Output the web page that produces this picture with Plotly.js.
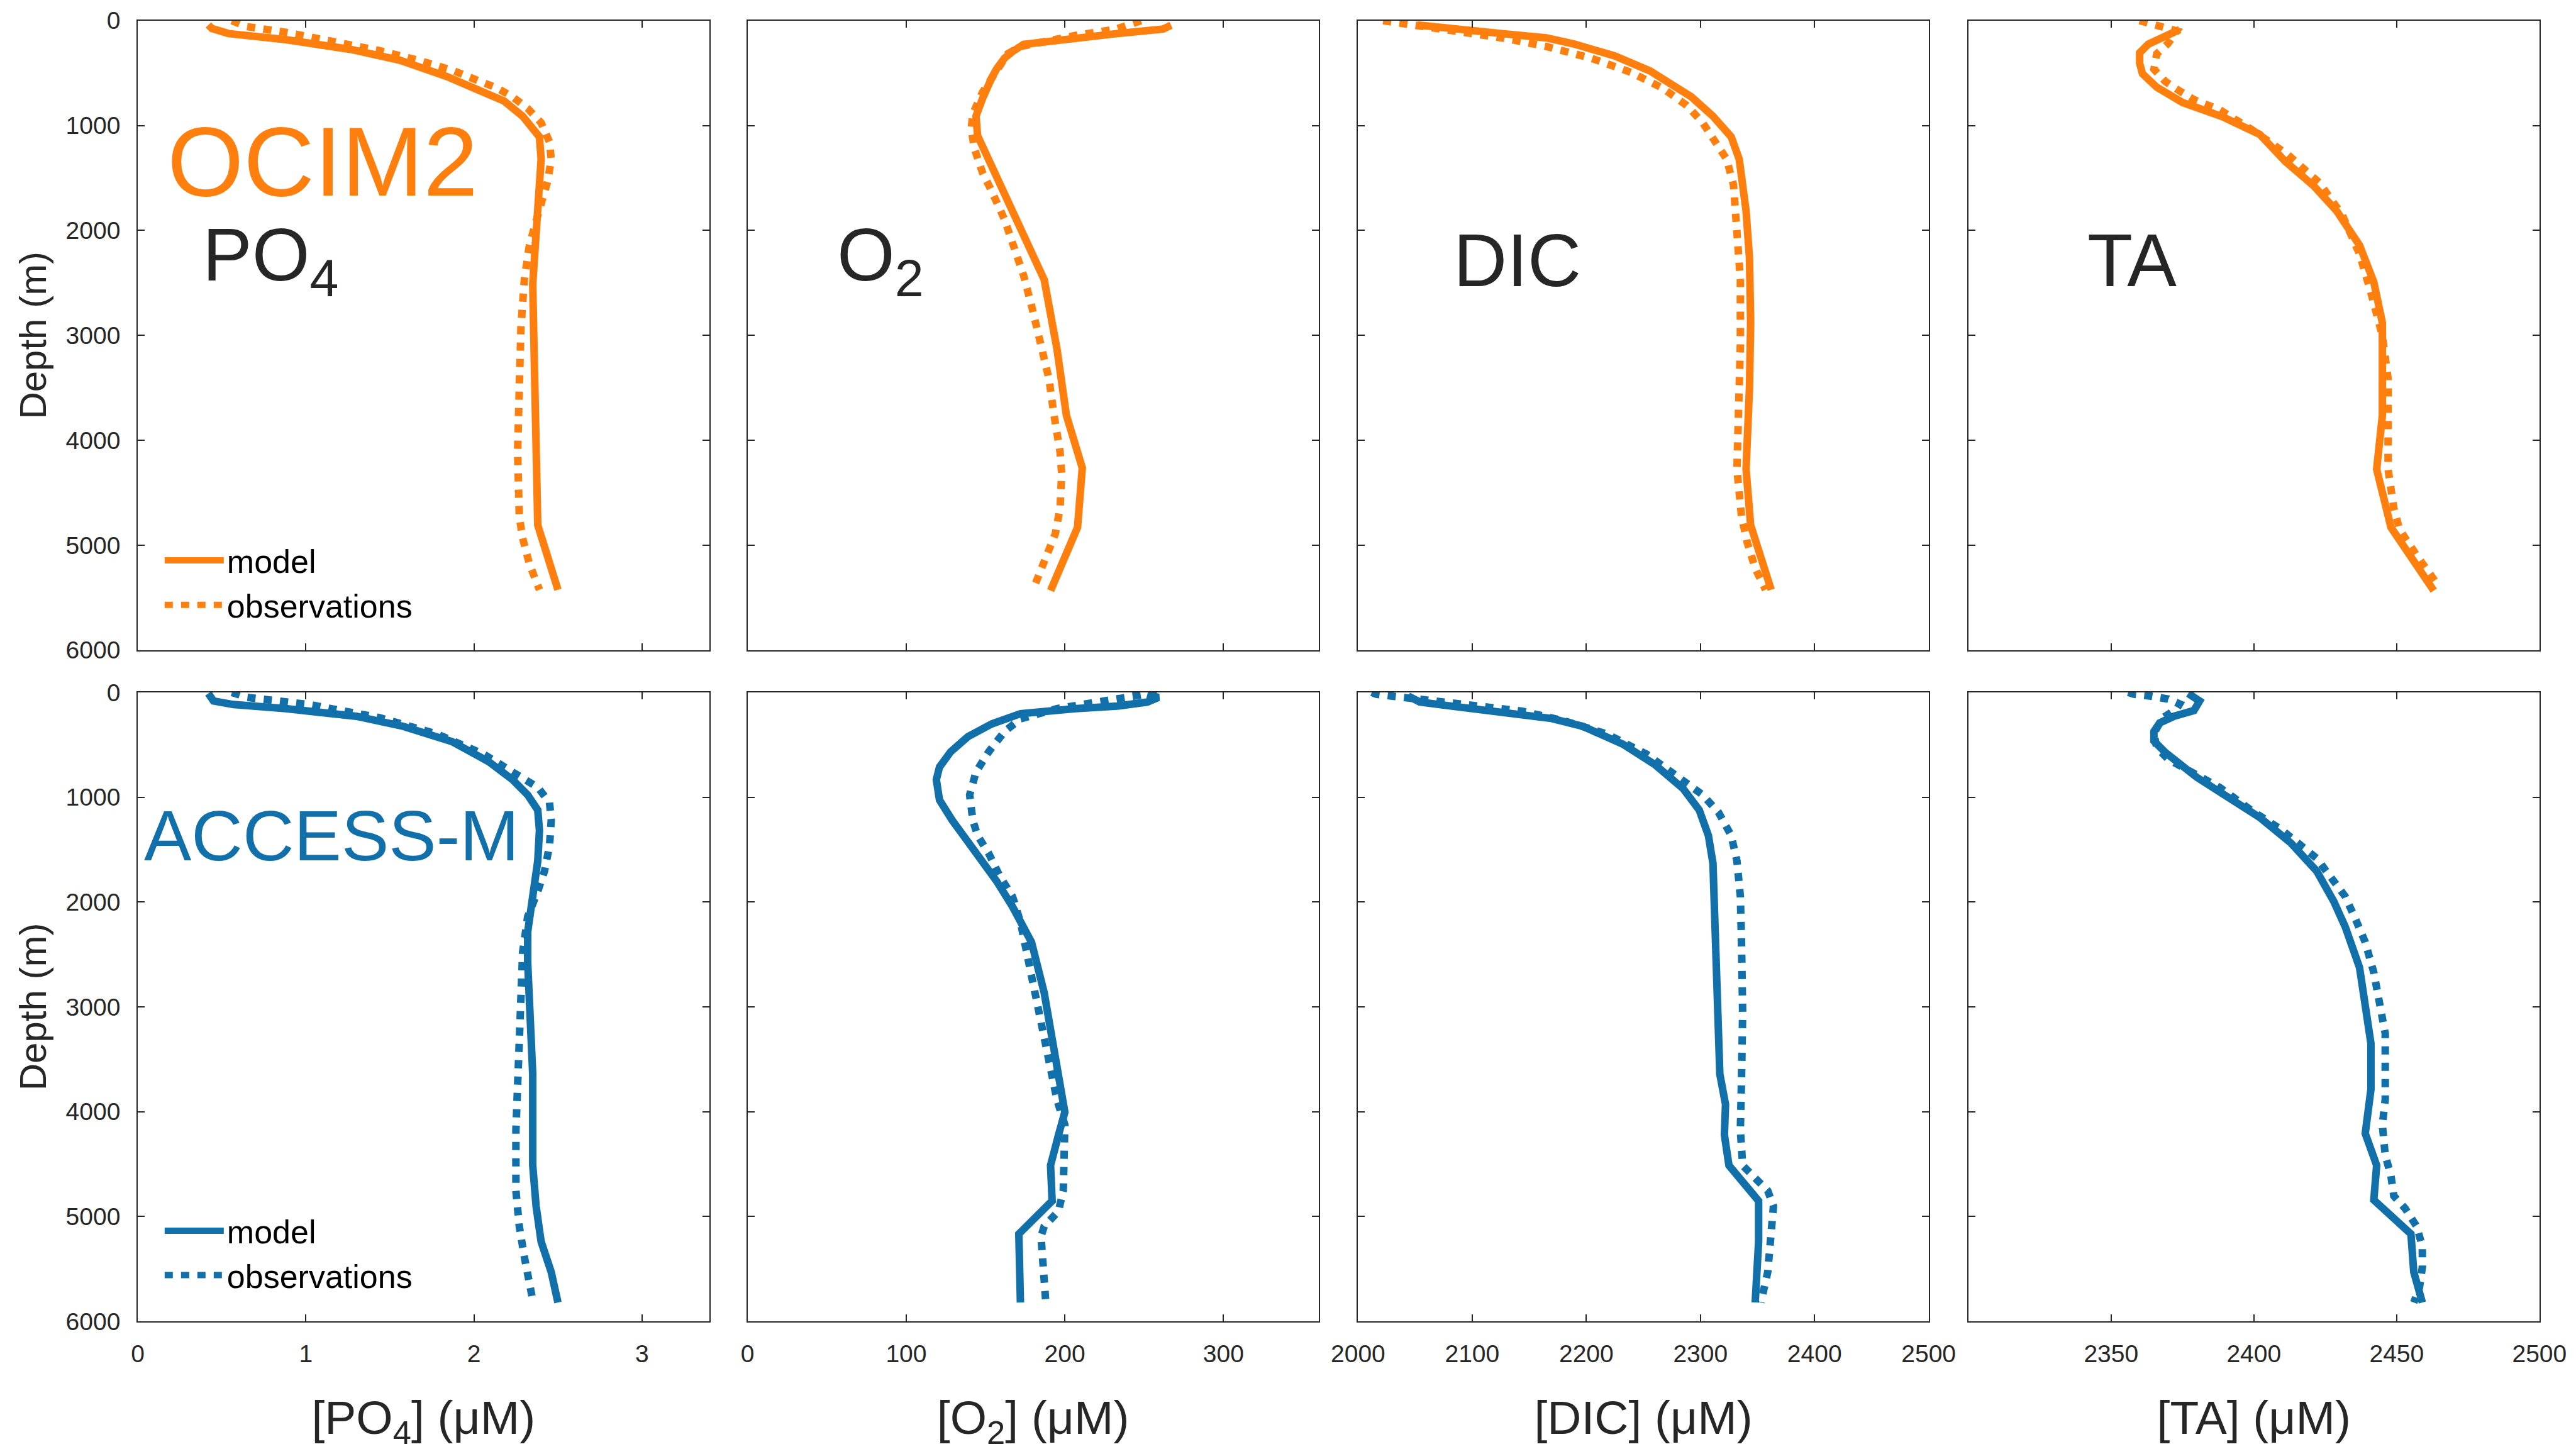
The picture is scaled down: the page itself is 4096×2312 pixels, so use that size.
<!DOCTYPE html>
<html>
<head>
<meta charset="utf-8">
<script src="https://cdn.plot.ly/plotly-3.0.1.min.js"></script>
<style>html,body{margin:0;padding:0;background:#fff;}#chart{width:4096px;height:2312px;}</style>
</head>
<body>
<div id="chart"></div>
<script>
// ---------- DATA ----------
// OCIM2 (top row)
const ocimPO4ModelDepth = [41, 74, 123, 181, 275, 378, 533, 644, 767, 911, 1108, 1321, 1567, 1773, 2006, 2511, 3291, 4255, 4809, 5425];
const ocimPO4Model      = [0.42, 0.44, 0.54, 0.88, 1.27, 1.56, 1.84, 2.01, 2.18, 2.29, 2.39, 2.40, 2.39, 2.39, 2.38, 2.35, 2.36, 2.37, 2.38, 2.50];
const ocimPO4ObsDepth   = [0, 57, 111, 193, 287, 378, 472, 562, 644, 726, 837, 973, 1157, 1321, 1526, 1855, 2142, 2470, 2922, 3496, 4112, 4727, 4932, 5178, 5343, 5425];
const ocimPO4Obs        = [0.56, 0.65, 0.88, 1.16, 1.44, 1.67, 1.87, 2.01, 2.14, 2.23, 2.32, 2.40, 2.45, 2.46, 2.44, 2.38, 2.33, 2.30, 2.28, 2.27, 2.26, 2.27, 2.29, 2.33, 2.37, 2.39];

const ocimO2ModelDepth  = [44, 80, 123, 164, 193, 226, 295, 357, 460, 542, 747, 911, 1096, 1321, 1814, 2470, 3127, 3763, 4263, 4830, 5433];
const ocimO2Model       = [267, 262, 233, 207, 187, 174, 167, 162, 157, 154, 148, 144, 145, 152, 167, 187, 195, 201, 211, 208, 191];
const ocimO2ObsDepth    = [0, 44, 82, 140, 193, 246, 316, 480, 685, 890, 1034, 1219, 1444, 1629, 1896, 2162, 2429, 2716, 3086, 3414, 3742, 4112, 4317, 4645, 4891, 5137, 5384];
const ocimO2Obs         = [248, 237, 232, 207, 187, 172, 164, 157, 148, 142, 141, 143, 148, 154, 162, 168, 174, 179, 185, 190, 193, 197, 198, 197, 194, 187, 181];

const ocimDICModelDepth = [41, 82, 123, 164, 222, 336, 480, 726, 911, 1108, 1321, 1567, 1814, 2265, 2881, 3496, 4276, 4809, 5425];
const ocimDICModel      = [2052, 2084, 2126, 2165, 2189, 2225, 2256, 2292, 2311, 2327, 2334, 2337, 2340, 2343, 2344, 2343, 2340, 2344, 2362];
const ocimDICObsDepth   = [0, 41, 98, 164, 246, 357, 492, 644, 808, 973, 1157, 1321, 1567, 1937, 2470, 3086, 3701, 4276, 4727, 4973, 5220, 5425];
const ocimDICObs        = [2022, 2052, 2084, 2126, 2165, 2204, 2239, 2267, 2288, 2302, 2314, 2323, 2329, 2332, 2335, 2335, 2333, 2332, 2336, 2341, 2348, 2357];

const ocimTAModelDepth  = [85, 144, 225, 307, 407, 507, 635, 780, 916, 1083, 1342, 1576, 1814, 2142, 2491, 2881, 3291, 3763, 4276, 4830, 5433];
const ocimTAModel       = [2374, 2369, 2363, 2360, 2360, 2361, 2366, 2375, 2389, 2402, 2411, 2421, 2429, 2437, 2442, 2445, 2445, 2445, 2443, 2448, 2463];
const ocimTAObsDepth    = [0, 44, 98, 216, 316, 462, 580, 671, 753, 849, 1034, 1280, 1547, 1855, 2224, 2593, 3004, 3414, 3906, 4276, 4645, 4850, 5096, 5363];
const ocimTAObs         = [2360, 2367, 2373, 2370, 2366, 2365, 2369, 2374, 2379, 2388, 2399, 2412, 2423, 2431, 2437, 2441, 2445, 2447, 2447, 2447, 2449, 2451, 2457, 2464];

// ACCESS-M (bottom row)
const accPO4ModelDepth  = [10, 82, 116, 155, 228, 324, 470, 663, 833, 978, 1123, 1317, 1608, 1898, 2286, 2576, 3061, 3642, 4513, 4901, 5240, 5530, 5821];
const accPO4Model       = [0.42, 0.45, 0.57, 0.88, 1.30, 1.58, 1.87, 2.09, 2.23, 2.32, 2.38, 2.39, 2.38, 2.35, 2.32, 2.32, 2.33, 2.35, 2.35, 2.37, 2.40, 2.46, 2.50];
const accPO4ObsDepth    = [0, 48, 116, 242, 397, 591, 760, 906, 1051, 1220, 1462, 1705, 1898, 2140, 2479, 2964, 3545, 4174, 4755, 5094, 5385, 5797];
const accPO4Obs         = [0.56, 0.65, 1.02, 1.44, 1.78, 2.06, 2.23, 2.38, 2.45, 2.46, 2.45, 2.42, 2.38, 2.32, 2.29, 2.28, 2.26, 2.25, 2.25, 2.27, 2.30, 2.35];

const accO2ModelDepth   = [19, 48, 92, 131, 155, 203, 300, 421, 567, 712, 833, 1027, 1220, 1535, 1801, 2044, 2383, 2867, 3351, 4005, 4223, 4513, 4852, 5167, 5821];
const accO2Model        = [252, 259, 252, 233, 207, 172, 154, 139, 128, 121, 119, 121, 129, 144, 157, 167, 179, 187, 193, 200, 196, 191, 192, 171, 172];
const accO2ObsDepth     = [0, 34, 82, 155, 252, 373, 567, 760, 978, 1220, 1366, 1535, 1753, 1947, 2189, 2479, 2770, 3061, 3351, 3642, 3884, 4126, 4416, 4755, 4949, 5094, 5191, 5482, 5821];
const accO2Obs          = [258, 245, 222, 195, 172, 162, 152, 144, 140, 142, 145, 152, 159, 167, 172, 176, 179, 183, 187, 191, 195, 200, 200, 199, 196, 187, 185, 186, 188];

const accDICModelDepth  = [36, 91, 127, 191, 250, 324, 494, 688, 920, 1123, 1366, 1632, 1995, 2383, 3061, 3642, 3932, 4223, 4513, 4852, 5240, 5821];
const accDICModel       = [2044, 2054, 2079, 2129, 2170, 2197, 2232, 2260, 2285, 2299, 2307, 2311, 2312, 2313, 2316, 2317, 2322, 2321, 2325, 2351, 2351, 2348];
const accDICObsDepth    = [0, 18, 36, 68, 131, 179, 276, 397, 591, 809, 978, 1148, 1366, 1608, 1947, 2383, 3061, 3690, 4174, 4513, 4610, 4755, 4901, 5240, 5530, 5821];
const accDICObs         = [2012, 2016, 2030, 2059, 2101, 2144, 2182, 2218, 2253, 2281, 2302, 2316, 2327, 2332, 2335, 2336, 2337, 2336, 2335, 2337, 2346, 2359, 2364, 2362, 2359, 2353];

const accTAModelDepth   = [10, 82, 173, 228, 291, 373, 464, 573, 810, 1010, 1192, 1438, 1705, 1995, 2237, 2625, 3012, 3351, 3787, 4208, 4513, 4843, 5167, 5530, 5821];
const accTAModel        = [2377, 2381, 2379, 2372, 2367, 2365, 2365, 2369, 2380, 2392, 2402, 2413, 2422, 2428, 2432, 2437, 2439, 2441, 2441, 2439, 2443, 2442, 2455, 2456, 2459];
const accTAObsDepth     = [0, 18, 36, 64, 110, 155, 246, 391, 528, 637, 728, 906, 1123, 1317, 1584, 1753, 1947, 2189, 2383, 2673, 2964, 3254, 3545, 3884, 4126, 4416, 4610, 4804, 4925, 5094, 5288, 5482, 5676, 5821];
const accTAObs          = [2356, 2358, 2364, 2370, 2374, 2373, 2368, 2365, 2366, 2370, 2376, 2388, 2399, 2410, 2422, 2427, 2432, 2436, 2439, 2442, 2444, 2446, 2446, 2446, 2445, 2446, 2448, 2449, 2453, 2457, 2459, 2459, 2458, 2456];

// axes / labels
const depthTicks   = [0, 1000, 2000, 3000, 4000, 5000, 6000];
const po4Ticks     = [0, 1, 2, 3];
const o2Ticks      = [0, 100, 200, 300];
const dicTicks     = [2000, 2100, 2200, 2300, 2400, 2500];
const taTicks      = [2350, 2400, 2450, 2500];
const xRanges      = [[0, 3.4], [0, 360], [2000, 2500], [2300, 2500]];
const xTickSets    = [po4Ticks, o2Ticks, dicTicks, taTicks];
const xTitles      = ['[PO<sub>4</sub>] (μM)', '[O<sub>2</sub>] (μM)', '[DIC] (μM)', '[TA] (μM)'];
const panelLabels  = ['PO<sub>4</sub>', 'O<sub>2</sub>', 'DIC', 'TA'];
const modelNames   = ['OCIM2', 'ACCESS-M'];
const seriesNames  = ['model', 'observations'];

// ---------- STYLE ----------
const ORANGE = '#FF7F0E';
const BLUE = '#1170AA';
const INK = '#262626';
const FONT = 'Liberation Sans, Arial, Helvetica, sans-serif';
const LW = 12;
const DOT = '13px,13px';

const xDomains = [[0.0535, 0.2753], [0.2902, 0.5119], [0.5272, 0.7487], [0.7641, 0.9858]];
const yDomains = [[0.5529, 0.9858], [0.0913, 0.5238]];

const rows = [
  {color: ORANGE, legend: 'legend', sets: [
    [ocimPO4ModelDepth, ocimPO4Model, ocimPO4ObsDepth, ocimPO4Obs],
    [ocimO2ModelDepth, ocimO2Model, ocimO2ObsDepth, ocimO2Obs],
    [ocimDICModelDepth, ocimDICModel, ocimDICObsDepth, ocimDICObs],
    [ocimTAModelDepth, ocimTAModel, ocimTAObsDepth, ocimTAObs]]},
  {color: BLUE, legend: 'legend2', sets: [
    [accPO4ModelDepth, accPO4Model, accPO4ObsDepth, accPO4Obs],
    [accO2ModelDepth, accO2Model, accO2ObsDepth, accO2Obs],
    [accDICModelDepth, accDICModel, accDICObsDepth, accDICObs],
    [accTAModelDepth, accTAModel, accTAObsDepth, accTAObs]]}
];

const data = [];
const legendBase = {xanchor: 'left', yanchor: 'top', bgcolor: 'rgba(0,0,0,0)',
  font: {family: FONT, size: 52, color: '#000000'}, itemwidth: 94, tracegroupgap: 0};
const layout = {
  width: 4096, height: 2312,
  margin: {l: 0, r: 0, t: 0, b: 0, pad: 0},
  paper_bgcolor: '#ffffff', plot_bgcolor: '#ffffff',
  font: {family: FONT, color: INK},
  showlegend: true,
  legend: Object.assign({x: 0.0627, y: 0.632}, legendBase),
  legend2: Object.assign({x: 0.0627, y: 0.171}, legendBase),
  annotations: []
};

const axBase = {
  showline: true, linecolor: INK, linewidth: 2, mirror: 'ticks',
  ticks: 'inside', ticklen: 11, tickwidth: 2, tickcolor: INK,
  showgrid: false, zeroline: false, fixedrange: true,
  tickfont: {family: FONT, size: 39, color: INK}
};

rows.forEach((row, r) => {
  row.sets.forEach((s, c) => {
    const idx = r * 4 + c + 1;
    const xa = 'x' + (idx === 1 ? '' : idx);
    const ya = 'y' + (idx === 1 ? '' : idx);
    const showLeg = (c === 0);
    data.push({
      type: 'scatter', mode: 'lines', x: s[1], y: s[0], xaxis: xa, yaxis: ya,
      name: seriesNames[0], legend: row.legend, showlegend: showLeg,
      line: {color: row.color, width: LW, dash: 'solid'}, hoverinfo: 'skip'
    });
    data.push({
      type: 'scatter', mode: 'lines', x: s[3], y: s[2], xaxis: xa, yaxis: ya,
      name: seriesNames[1], legend: row.legend, showlegend: showLeg,
      line: {color: row.color, width: LW, dash: DOT}, hoverinfo: 'skip'
    });
    const xKey = 'xaxis' + (idx === 1 ? '' : idx);
    const yKey = 'yaxis' + (idx === 1 ? '' : idx);
    const xa_ = Object.assign({}, axBase, {
      domain: xDomains[c], anchor: ya, range: xRanges[c],
      tickmode: 'array', tickvals: xTickSets[c], ticktext: xTickSets[c].map(String),
      showticklabels: r === 1, ticklabelstandoff: 16
    });
    if (r === 1) xa_.title = {text: xTitles[c], font: {family: FONT, size: 75, color: INK}, standoff: 55};
    layout[xKey] = xa_;
    const ya_ = Object.assign({}, axBase, {
      domain: yDomains[r], anchor: xa, range: [6000, 0],
      tickmode: 'array', tickvals: depthTicks, ticktext: depthTicks.map(String),
      showticklabels: c === 0, ticklabelstandoff: 18
    });
    if (c === 0) ya_.title = {text: 'Depth (m)', font: {family: FONT, size: 60, color: INK}, standoff: 12};
    layout[yKey] = ya_;
  });
});

// panel annotations
const labelX = [0.0782, 0.3245, 0.5637, 0.8097];
panelLabels.forEach((t, i) => {
  layout.annotations.push({text: t, xref: 'paper', yref: 'paper', x: labelX[i], y: 0.8209,
    xanchor: 'left', yanchor: 'middle', showarrow: false, font: {family: FONT, size: 118, color: INK}});
});
layout.annotations.push({text: modelNames[0], xref: 'paper', yref: 'paper', x: 0.0644, y: 0.889,
  xanchor: 'left', yanchor: 'middle', showarrow: false, font: {family: FONT, size: 156, color: ORANGE}});
layout.annotations.push({text: modelNames[1], xref: 'paper', yref: 'paper', x: 0.0553, y: 0.4252,
  xanchor: 'left', yanchor: 'middle', showarrow: false, font: {family: FONT, size: 113, color: BLUE}});

Plotly.newPlot('chart', data, layout, {staticPlot: true, displayModeBar: false});
</script>
</body>
</html>
